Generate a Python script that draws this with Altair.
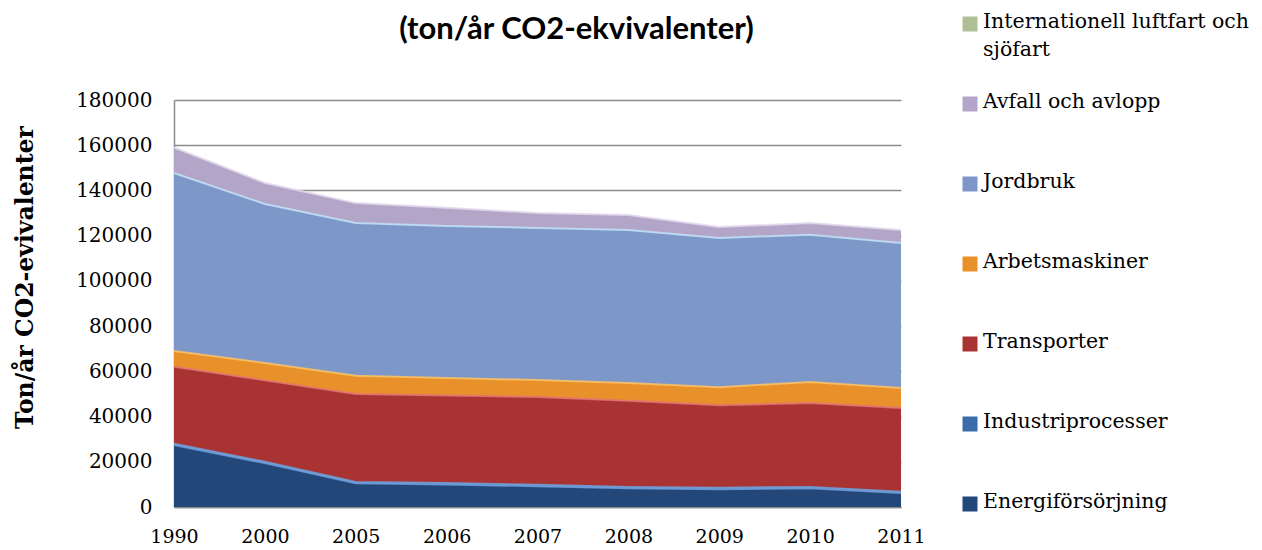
import altair as alt
import pandas as pd

years = ["1990", "2000", "2005", "2006", "2007", "2008", "2009", "2010", "2011"]

series = [
    "Energiförsörjning",
    "Industriprocesser",
    "Transporter",
    "Arbetsmaskiner",
    "Jordbruk",
    "Avfall och avlopp",
    "Internationell luftfart och sjöfart",
]

energi = [27400, 19400, 10500, 10000, 9200, 8300, 7900, 8300, 6200]
industri = [600, 600, 600, 600, 600, 600, 600, 600, 600]
transporter = [34000, 36000, 38900, 38700, 38900, 38100, 36500, 37100, 37000]
arbetsmaskiner = [7000, 7700, 8000, 7700, 7500, 7800, 8000, 9300, 8800]
jordbruk = [78700, 70300, 67600, 67300, 67200, 67700, 66000, 65100, 64200]
avfall = [11300, 9300, 8800, 8100, 6600, 6600, 4800, 5200, 5700]
internationell = [0, 0, 0, 0, 0, 0, 0, 0, 0]

colors = ["#24477A", "#3A6BAA", "#A93333", "#E8912A", "#7D97C8", "#B3A5C8", "#AFC095"]
edge_colors = ["#6E9FDA", "#6E9FDA", "#E27272", "#FBC163", "#BFE0F7", "#E2D8EC", "#D6E2C4"]

legend_labels = [
    "Internationell luftfart och\nsjöfart",
    "Avfall och avlopp",
    "Jordbruk",
    "Arbetsmaskiner",
    "Transporter",
    "Industriprocesser",
    "Energiförsörjning",
]

values = [energi, industri, transporter, arbetsmaskiner, jordbruk, avfall, internationell]

rows = []
for i, (name, vals) in enumerate(zip(series, values)):
    for y, v in zip(years, vals):
        rows.append({"year": y, "series": name, "value": v, "order": i, "edge": edge_colors[i]})
df = pd.DataFrame(rows)

legend_order = list(reversed(series))
legend_df = pd.DataFrame({"series": legend_order, "label": legend_labels})

SERIF = "DejaVu Serif"

color_scale = alt.Scale(domain=series, range=colors)

x_enc = alt.X(
    "year:O",
    sort=years,
    scale=alt.Scale(type="point", padding=0),
    axis=alt.Axis(
        title=None,
        labelAngle=0,
        labelFont=SERIF,
        labelFontSize=19,
        labelColor="#000000",
        labelPadding=20,
        domainColor="#8a8a8a",
        domainWidth=1.5,
        ticks=False,
        grid=False,
    ),
)

areas = (
    alt.Chart(df)
    .mark_area(interpolate="linear")
    .encode(
        x=x_enc,
        y=alt.Y(
            "value:Q",
            stack="zero",
            scale=alt.Scale(domain=[0, 180000], nice=False),
            axis=alt.Axis(
                title="Ton/år CO2-evivalenter",
                titleFont=SERIF,
                titleFontSize=23.5,
                titleFontWeight="bold",
                titleColor="#000000",
                titlePadding=38,
                titleY=177,
                values=[0, 20000, 40000, 60000, 80000, 100000, 120000, 140000, 160000, 180000],
                format="d",
                labelFont=SERIF,
                labelFontSize=20,
                labelColor="#000000",
                labelPadding=22,
                ticks=False,
                domainColor="#8a8a8a",
                domainWidth=1.5,
                gridColor="#8c8c8c",
                gridWidth=1.5,
            ),
        ),
        color=alt.Color("series:N", scale=color_scale, legend=None),
        order=alt.Order("order:Q", sort="ascending"),
    )
)

edges = (
    alt.Chart(df)
    .transform_filter("datum.order < 6")
    .transform_stack(
        stack="value",
        groupby=["year"],
        sort=[alt.SortField("order", order="ascending")],
        as_=["y0", "y1"],
    )
    .mark_line(strokeWidth=2, opacity=0.85, interpolate="linear")
    .encode(
        x=x_enc,
        y=alt.Y("y1:Q"),
        detail="series:N",
        color=alt.Color("edge:N", scale=None),
    )
)

main = (areas + edges).properties(
    width=727,
    height=407,
    title=alt.TitleParams(
        "(ton/år CO2-ekvivalenter)",
        font="Lato",
        fontSize=31,
        fontWeight="bold",
        color="#000000",
        anchor="middle",
        offset=44,
        dx=39,
    ),
)

ly = alt.Y(
    "series:N",
    sort=legend_order,
    scale=alt.Scale(type="point", padding=0),
    axis=None,
)

leg_sq = (
    alt.Chart(legend_df)
    .mark_square(size=225, opacity=1, yOffset=-76)
    .encode(
        y=ly,
        x=alt.value(8),
        color=alt.Color("series:N", scale=color_scale, legend=None),
    )
)

leg_tx = (
    alt.Chart(legend_df)
    .mark_text(
        align="left",
        baseline="top",
        dy=-88,
        lineBreak="\n",
        lineHeight=28,
        font=SERIF,
        fontSize=20.5,
        color="#000000",
    )
    .encode(y=ly, x=alt.value(21), text="label:N")
)

legend = (leg_sq + leg_tx).properties(width=250, height=480)

chart = (
    alt.hconcat(main, legend, spacing=36)
    .configure_view(stroke=None)
    .properties(padding={"top": 4, "left": 5, "right": 5, "bottom": 5})
)

chart.save("out.html", embed_options={"renderer": "svg", "actions": False})
